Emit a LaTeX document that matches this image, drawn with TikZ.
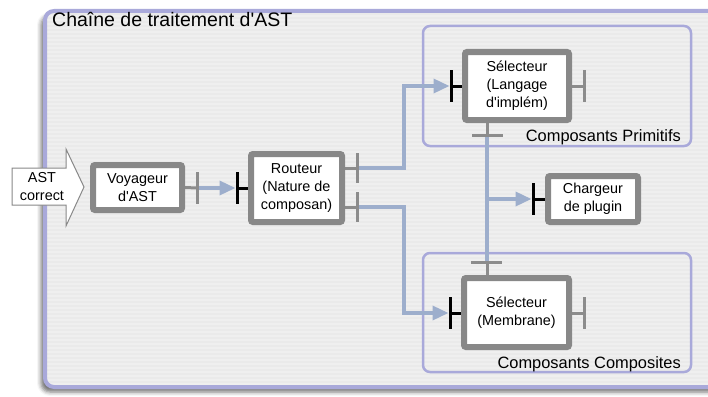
\documentclass[tikz,border=0pt]{standalone}
\usepackage{fontspec}
\defaultfontfeatures[\rmfamily,\sffamily]{}
\setmainfont{Liberation Sans}
\usetikzlibrary{arrows.meta,shadows.blur,calc}
\definecolor{lav}{HTML}{A9A9DA}
\definecolor{connc}{HTML}{9DAECC}
\definecolor{pgray}{HTML}{8C8C8C}
\definecolor{bgray}{HTML}{888888}
\definecolor{bgc}{HTML}{EFEFEF}
\definecolor{stripec}{HTML}{EAEAEA}
\pgfdeclarelayer{back}
\pgfdeclarelayer{mid}
\pgfsetlayers{back,mid,main}
\begin{document}
\begin{tikzpicture}[x=1pt,y=-1pt,
  comp/.style={draw=bgray, line width=6pt, fill=white, rounded corners=2pt, align=center, inner sep=0pt, font=\fontsize{14.4}{18}\selectfont},
  wire/.style={draw=connc, line width=3.5pt},
  arr/.style={wire, -{Triangle[length=16pt,width=14pt]}, shorten >=1.5pt},
  outport/.style={draw=pgray, line width=3pt},
  inport/.style={draw=black, line width=3pt},
  grp/.style={draw=lav, line width=2.5pt, rounded corners=7pt},
  lbl/.style={font=\fontsize{16.4}{19}\selectfont, inner sep=0pt, anchor=base east}
]
\useasboundingbox (0,0) rectangle (708,396);
\begin{pgfonlayer}{back}
% outer frame
\path[fill=bgc, rounded corners=9pt, blur shadow={shadow xshift=-4pt, shadow yshift=-5pt, shadow blur radius=4pt, shadow opacity=55}] (45,11) rectangle (760,387);
\begin{scope}
\clip[rounded corners=9pt] (45,11) rectangle (760,387);
\foreach \yy in {14,18,...,386} {\draw[stripec, line width=1.6pt] (45,\yy) -- (708,\yy);}
\end{scope}
\draw[lav, line width=4pt, rounded corners=9pt] (45,11) rectangle (760,387);
% groups
\draw[grp] (423,26) rectangle (691,146);
\draw[grp] (423,253) rectangle (691,372);
\end{pgfonlayer}

\node[anchor=base west, inner sep=0pt, font=\fontsize{19.5}{22}\selectfont] (title) at (52,27) {Chaîne de traitement d'AST};
\node[lbl] (lprim) at (681,141) {Composants Primitifs};
\node[lbl] (lcomp) at (681,368) {Composants Composites};

% input arrow
\draw[bgray, line width=1pt, fill=white] (12,168) -- (66,168) -- (66,149) -- (84,187) -- (66,226) -- (66,205) -- (12,205) -- cycle;
\node[align=center, inner sep=0pt, font=\fontsize{14.4}{18}\selectfont] (ast) at (42,187) {AST\\correct};

% components
\node[comp, minimum width=89pt, minimum height=45pt] (voy) at (137.5,187.5) {Voyageur\\d'AST};
\node[comp, minimum width=91pt, minimum height=68pt] (rout) at (296.5,188) {Routeur\\(Nature de\\composan)};
\node[comp, minimum width=104pt, minimum height=68pt] (sell) at (517,86) {Sélecteur\\(Langage\\d'implém)};
\node[comp, minimum width=90pt, minimum height=46pt] (charg) at (593,199) {Chargeur\\de plugin};
\node[comp, minimum width=105pt, minimum height=69pt] (selm) at (516.5,312.5) {Sélecteur\\(Membrane)};

% port coordinates
\coordinate (vo) at (197,188);
\coordinate (ri) at (237,188);
\coordinate (ro1) at (357,168);
\coordinate (ro2) at (357,207);
\coordinate (li) at (451,86);
\coordinate (lo) at (584,86);
\coordinate (lb) at (487,135);
\coordinate (ci) at (533,199);
\coordinate (br) at (487,199);
\coordinate (mt) at (487,262);
\coordinate (mi) at (450,313);
\coordinate (mo) at (584,313);

\begin{pgfonlayer}{mid}
% connectors
\draw[arr] (vo) -- (ri);
\draw[arr] (ro1) -| (404,127) |- (li);
\draw[arr] (ro2) -| (404,260) |- (mi);
\draw[wire] (lb) -- (mt);
\draw[arr] (br) -- (ci);

% output ports (gray)
\draw[outport] (voy.east) -- (vo);
\draw[outport] ($(vo)+(0,-16)$) -- ($(vo)+(0,16)$);
\draw[outport] (rout.east |- ro1) -- (ro1);
\draw[outport] ($(ro1)+(0,-15)$) -- ($(ro1)+(0,15)$);
\draw[outport] (rout.east |- ro2) -- (ro2);
\draw[outport] ($(ro2)+(0,-15)$) -- ($(ro2)+(0,15)$);
\draw[outport] (sell.east) -- (lo);
\draw[outport] ($(lo)+(0,-16)$) -- ($(lo)+(0,16)$);
\draw[outport] (sell.south -| lb) -- (lb);
\draw[outport] ($(lb)+(-15,0)$) -- ($(lb)+(16,0)$);
\draw[outport] (selm.north -| mt) -- (mt);
\draw[outport] ($(mt)+(-16,0)$) -- ($(mt)+(15,0)$);
\draw[outport] (selm.east |- mo) -- (mo);
\draw[outport] ($(mo)+(0,-16)$) -- ($(mo)+(0,16)$);

% input ports (black)
\draw[inport] (ri) -- (rout.west |- ri);
\draw[inport] ($(ri)+(0,-16)$) -- ($(ri)+(0,16)$);
\draw[inport] (li) -- (sell.west);
\draw[inport] ($(li)+(0,-16)$) -- ($(li)+(0,16)$);
\draw[inport] (ci) -- (charg.west);
\draw[inport] ($(ci)+(0,-16)$) -- ($(ci)+(0,16)$);
\draw[inport] (mi) -- (selm.west |- mi);
\draw[inport] ($(mi)+(0,-16)$) -- ($(mi)+(0,16)$);
\end{pgfonlayer}
\end{tikzpicture}
\end{document}
